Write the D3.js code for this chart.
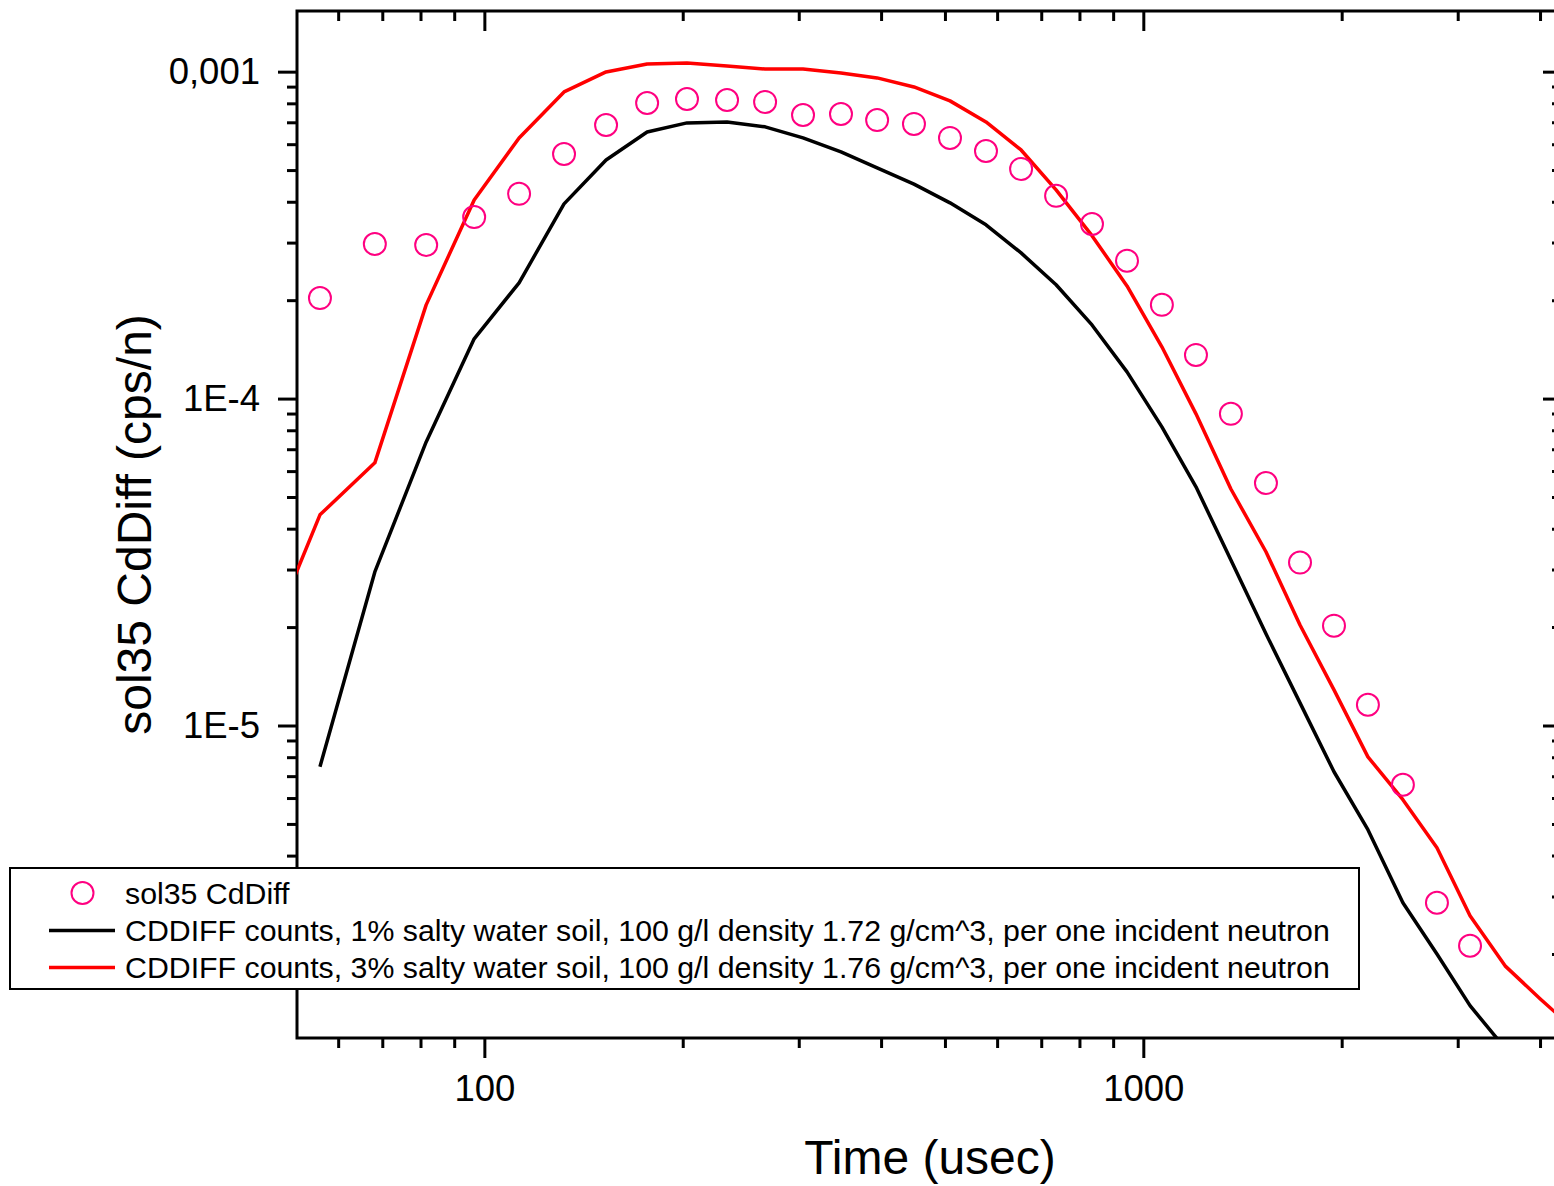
<!DOCTYPE html>
<html>
<head>
<meta charset="utf-8">
<script src="https://cdn.jsdelivr.net/npm/d3@7"></script>
<style>
body { margin: 0; background: #fff; }
svg { display: block; font-family: "Liberation Sans", Arial, sans-serif; }
</style>
</head>
<body>
<svg id="chart" width="1554" height="1186"></svg>
<script>
// measured times (usec) of the sol35 CdDiff points
var obsTime = [56.3, 68.2, 81.6, 96.5, 112.9, 132.1, 153.0, 176.6, 203.0, 233.5,
	266.7, 304.5, 347.7, 394.5, 448.7, 508.9, 577.1, 652.4, 737.3, 835.8,
	944.6, 1067, 1202, 1358, 1535, 1729, 1947, 2192, 2477, 2790, 3132];
var obsCounts = [2.03e-4, 2.97e-4, 2.95e-4, 3.59e-4, 4.23e-4, 5.60e-4, 6.87e-4, 8.02e-4, 8.25e-4, 8.19e-4,
	8.08e-4, 7.37e-4, 7.42e-4, 7.11e-4, 6.92e-4, 6.27e-4, 5.72e-4, 5.04e-4, 4.17e-4, 3.42e-4,
	2.64e-4, 1.935e-4, 1.36e-4, 8.98e-5, 5.52e-5, 3.15e-5, 2.02e-5, 1.157e-5, 6.59e-6, 2.87e-6, 2.12e-6];

// simulated time bins (usec)
var simTime = [46, 56.3, 68.2, 81.6, 96.5, 112.9, 132.1, 153.0, 176.6, 203.0, 233.5,
	266.7, 304.5, 347.7, 394.5, 448.7, 508.9, 577.1, 652.4, 737.3, 835.8,
	944.6, 1067, 1202, 1358, 1535, 1729, 1947, 2192, 2477, 2790, 3132, 3540, 4000, 4520];
var salt1Counts = [null, 7.48e-6, 2.95e-5, 7.37e-5, 1.523e-4, 2.26e-4, 3.94e-4, 5.37e-4, 6.54e-4, 6.97e-4, 7.02e-4,
	6.78e-4, 6.27e-4, 5.68e-4, 5.08e-4, 4.53e-4, 3.97e-4, 3.40e-4, 2.79e-4, 2.23e-4, 1.68e-4,
	1.207e-4, 8.19e-5, 5.37e-5, 3.21e-5, 1.907e-5, 1.173e-5, 7.22e-6, 4.80e-6, 2.87e-6, 2.00e-6, 1.39e-6, 1.03e-6, null, null];
var salt3Counts = [1.63e-5, 4.41e-5, 6.36e-5, 1.935e-4, 4.05e-4, 6.27e-4, 8.67e-4, 9.98e-4, 1.056e-3, 1.063e-3, 1.041e-3,
	1.019e-3, 1.019e-3, 9.91e-4, 9.57e-4, 8.98e-4, 8.14e-4, 7.02e-4, 5.76e-4, 4.35e-4, 3.15e-4,
	2.21e-4, 1.44e-4, 8.98e-5, 5.29e-5, 3.40e-5, 2.03e-5, 1.285e-5, 8.02e-6, 5.93e-6, 4.23e-6, 2.62e-6, 1.84e-6, 1.46e-6, 1.17e-6];

var xMajor = [100, 1000];
var xMajorLabels = ["100", "1000"];
var yMajor = [1e-3, 1e-4, 1e-5];
var yMajorLabels = ["0,001", "1E-4", "1E-5"];

var legendLabels = ["sol35 CdDiff",
	"CDDIFF counts, 1% salty water soil, 100 g/l density 1.72 g/cm^3, per one incident neutron",
	"CDDIFF counts, 3% salty water soil, 100 g/l density 1.76 g/cm^3, per one incident neutron"];

var dimensions = {top: 11, right: 1562, bottom: 1038, left: 297};
var pointColor = "#ff0080";

var x = d3.scaleLog().domain([51.96, 4319]).range([dimensions.left, dimensions.right]);
var y = d3.scaleLog().domain([1.107e-6, 1.533e-3]).range([dimensions.bottom, dimensions.top]);

function minorTicks(scale){
	var d = scale.domain(), out = [];
	var k, m, v;
	for(k = Math.floor(Math.log10(d[0])); k <= Math.ceil(Math.log10(d[1])); k++){
		for(m = 2; m <= 9; m++){
			v = m * Math.pow(10, k);
			if(v >= d[0] && v <= d[1]) out.push(v);
		}
	}
	return out;
}

var svg = d3.select("#chart");

svg.append("defs").append("clipPath").attr("id", "plotClip")
	.append("rect")
	.attr("x", dimensions.left).attr("y", dimensions.top)
	.attr("width", dimensions.right - dimensions.left)
	.attr("height", dimensions.bottom - dimensions.top);

function styleAxis(g){
	g.select(".domain").remove();
	g.selectAll(".tick line").attr("stroke", "#000").attr("stroke-width", 3);
	g.attr("font-family", null).attr("font-size", 36.5);
	g.selectAll(".tick text").attr("fill", "#000");
}

// bottom / top
svg.append("g").attr("transform", "translate(0," + dimensions.bottom + ")")
	.call(d3.axisBottom(x).tickValues(xMajor).tickSize(20).tickPadding(17)
		.tickFormat(function(d, i){ return xMajorLabels[i]; }))
	.call(styleAxis);
svg.append("g").attr("transform", "translate(0," + dimensions.bottom + ")")
	.call(d3.axisBottom(x).tickValues(minorTicks(x)).tickSize(10).tickFormat(""))
	.call(styleAxis);
svg.append("g").attr("transform", "translate(0," + dimensions.top + ")")
	.call(d3.axisTop(x).tickValues(xMajor).tickSize(-20).tickFormat(""))
	.call(styleAxis);
svg.append("g").attr("transform", "translate(0," + dimensions.top + ")")
	.call(d3.axisTop(x).tickValues(minorTicks(x)).tickSize(-10).tickFormat(""))
	.call(styleAxis);

// left / right
svg.append("g").attr("transform", "translate(" + dimensions.left + ",0)")
	.call(d3.axisLeft(y).tickValues(yMajor).tickSize(19).tickPadding(18)
		.tickFormat(function(d, i){ return yMajorLabels[i]; }))
	.call(styleAxis);
svg.append("g").attr("transform", "translate(" + dimensions.left + ",0)")
	.call(d3.axisLeft(y).tickValues(minorTicks(y)).tickSize(10).tickFormat(""))
	.call(styleAxis);
svg.append("g").attr("transform", "translate(" + dimensions.right + ",0)")
	.call(d3.axisRight(y).tickValues(yMajor).tickSize(-19).tickFormat(""))
	.call(styleAxis);
svg.append("g").attr("transform", "translate(" + dimensions.right + ",0)")
	.call(d3.axisRight(y).tickValues(minorTicks(y)).tickSize(-10).tickFormat(""))
	.call(styleAxis);

svg.append("rect")
	.attr("x", dimensions.left).attr("y", dimensions.top)
	.attr("width", dimensions.right - dimensions.left)
	.attr("height", dimensions.bottom - dimensions.top)
	.attr("fill", "none").attr("stroke", "#000").attr("stroke-width", 3);

var plot = svg.append("g").attr("clip-path", "url(#plotClip)");

function drawLine(values, color){
	var line = d3.line()
		.defined(function(d, i){ return values[i] !== null; })
		.x(function(d, i){ return x(simTime[i]); })
		.y(function(d, i){ return y(values[i]); });
	plot.append("path")
		.datum(simTime)
		.attr("d", line)
		.attr("fill", "none")
		.attr("stroke", color)
		.attr("stroke-width", 3.5)
		.attr("stroke-linejoin", "round");
}

drawLine(salt1Counts, "#000");
drawLine(salt3Counts, "#ff0000");

plot.selectAll(".obs")
	.data(obsTime)
	.enter().append("circle")
	.attr("class", "obs")
	.attr("cx", function(d){ return x(d); })
	.attr("cy", function(d, i){ return y(obsCounts[i]); })
	.attr("r", 11)
	.attr("fill", "none")
	.attr("stroke", pointColor)
	.attr("stroke-width", 2);

// axis titles
svg.append("text")
	.attr("x", 930)
	.attr("y", 1174)
	.attr("text-anchor", "middle")
	.attr("font-size", 48)
	.text("Time (usec)");

svg.append("text")
	.attr("transform", "translate(151," + (dimensions.top + dimensions.bottom) / 2 + ") rotate(-90)")
	.attr("text-anchor", "middle")
	.attr("font-size", 48)
	.text("sol35 CdDiff (cps/n)");

// legend
var legend = svg.append("g");
legend.append("rect")
	.attr("x", 10).attr("y", 868)
	.attr("width", 1349).attr("height", 121)
	.attr("fill", "#fff").attr("stroke", "#000").attr("stroke-width", 2);

var rowY = [893, 930.5, 967.5];
legend.append("circle")
	.attr("cx", 82.5).attr("cy", rowY[0]).attr("r", 11)
	.attr("fill", "none").attr("stroke", pointColor).attr("stroke-width", 2);
legend.append("line")
	.attr("x1", 49).attr("x2", 115).attr("y1", rowY[1]).attr("y2", rowY[1])
	.attr("stroke", "#000").attr("stroke-width", 3.5);
legend.append("line")
	.attr("x1", 49).attr("x2", 115).attr("y1", rowY[2]).attr("y2", rowY[2])
	.attr("stroke", "#ff0000").attr("stroke-width", 3.5);

legend.selectAll(".legendLabel")
	.data(legendLabels)
	.enter().append("text")
	.attr("class", "legendLabel")
	.attr("x", 125)
	.attr("y", function(d, i){ return rowY[i] + 10.5; })
	.attr("font-size", 30.3)
	.text(function(d){ return d; });
</script>
</body>
</html>
